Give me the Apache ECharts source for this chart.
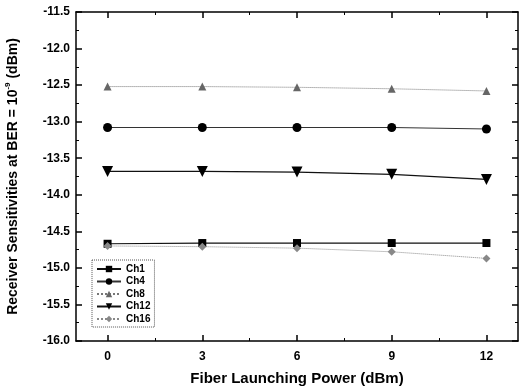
<!DOCTYPE html>
<html>
<head>
<meta charset="utf-8">
<script src="https://cdn.jsdelivr.net/npm/echarts@6/dist/echarts.min.js"></script>
<style>html,body{margin:0;padding:0;background:#fff}#c{width:522px;height:391px}</style>
</head>
<body>
<div id="c"></div>
<script>
var powers = [0, 3, 6, 9, 12];
var ch1 = [-14.67, -14.66, -14.66, -14.66, -14.66];
var ch4 = [-13.08, -13.08, -13.08, -13.08, -13.10];
var ch8 = [-12.52, -12.52, -12.53, -12.55, -12.58];
var ch12 = [-13.68, -13.68, -13.69, -13.72, -13.79];
var ch16 = [-14.70, -14.71, -14.73, -14.78, -14.87];
var xMajorTicks = [0, 3, 6, 9, 12];
var xMinorTicks = [1.5, 4.5, 7.5, 10.5];

function pairs(arr) { return powers.map(function (p, i) { return [p, arr[i]]; }); }

var font = '"Liberation Sans", Arial, sans-serif';
var chart = echarts.init(document.getElementById('c'));
var axisLine = { show: true, onZero: false, lineStyle: { color: '#000', width: 1.5 } };

function mk(name, data, symbol, size, color, lineType, lineColor, lw, rotate) {
  return {
    name: name, type: 'line', data: pairs(data), symbol: symbol, symbolSize: size,
    symbolRotate: rotate || 0,
    itemStyle: { color: color },
    lineStyle: { color: lineColor, type: lineType, width: lw },
    xAxisIndex: 0, yAxisIndex: 0, animation: false
  };
}

chart.setOption({
  animation: false,
  grid: { left: 76, right: 4, top: 12, height: 329, containLabel: false, outerBoundsMode: 'none' },
  legend: {
    orient: 'vertical', left: 92, top: 260,
    padding: [4, 4, 3, 4], itemGap: 2.5, itemWidth: 24, itemHeight: 8,
    borderColor: '#555', borderWidth: 1, borderType: 'dotted',
    textStyle: { fontFamily: font, fontWeight: 'bold', fontSize: 10, color: '#000' },
    data: ['Ch1', 'Ch4', 'Ch8', 'Ch12', 'Ch16']
  },
  xAxis: [
    {
      type: 'value', min: -1, max: 13, position: 'bottom',
      name: 'Fiber Launching Power (dBm)', nameLocation: 'middle', nameGap: 30,
      nameTextStyle: { fontFamily: font, fontWeight: 'bold', fontSize: 15, color: '#000' },
      axisLine: axisLine,
      axisTick: { show: true, inside: true, length: 6, customValues: xMajorTicks, lineStyle: { color: '#000', width: 1.5 } },
      axisLabel: { show: true, customValues: xMajorTicks, margin: 10, fontFamily: font, fontWeight: 'bold', fontSize: 12, color: '#000' },
      splitLine: { show: false }
    },
    {
      type: 'value', min: -1, max: 13, position: 'top',
      axisLine: axisLine,
      axisTick: { show: true, inside: true, length: 6, customValues: xMajorTicks, lineStyle: { color: '#000', width: 1.5 } },
      axisLabel: { show: false }, splitLine: { show: false }
    },
    {
      type: 'value', min: -1, max: 13, position: 'bottom',
      axisLine: { show: false },
      axisTick: { show: true, inside: true, length: 3, customValues: xMinorTicks, lineStyle: { color: '#000', width: 1 } },
      axisLabel: { show: false }, splitLine: { show: false }
    },
    {
      type: 'value', min: -1, max: 13, position: 'top',
      axisLine: { show: false },
      axisTick: { show: true, inside: true, length: 3, customValues: xMinorTicks, lineStyle: { color: '#000', width: 1 } },
      axisLabel: { show: false }, splitLine: { show: false }
    }
  ],
  yAxis: [
    {
      type: 'value', min: -16, max: -11.5, interval: 0.5, position: 'left',
      name: '{a|Receiver Sensitivities at BER = 10}{s|-9}{a| (dBm)}',
      nameLocation: 'middle', nameGap: 56, nameRotate: 90,
      nameTextStyle: {
        rich: {
          a: { fontFamily: font, fontWeight: 'bold', fontSize: 14, color: '#000', verticalAlign: 'bottom', lineHeight: 16 },
          s: { fontFamily: font, fontWeight: 'bold', fontSize: 8, color: '#000', verticalAlign: 'top', lineHeight: 16, padding: [0, 0, 6, 0] }
        }
      },
      axisLine: axisLine,
      axisTick: { show: true, inside: true, length: 6, lineStyle: { color: '#000', width: 1.5 } },
      minorTick: { show: true, splitNumber: 2, length: 3, lineStyle: { color: '#000', width: 1 } },
      axisLabel: { margin: 6, fontFamily: font, fontWeight: 'bold', fontSize: 12, color: '#000',
        formatter: function (v) { return v.toFixed(1); } },
      splitLine: { show: false }, minorSplitLine: { show: false }
    },
    {
      type: 'value', min: -16, max: -11.5, interval: 0.5, position: 'right',
      axisLine: axisLine,
      axisTick: { show: true, inside: true, length: 6, lineStyle: { color: '#000', width: 1.5 } },
      minorTick: { show: true, splitNumber: 2, length: 3, lineStyle: { color: '#000', width: 1 } },
      axisLabel: { show: false }, splitLine: { show: false }
    }
  ],
  series: [
    mk('Ch1', ch1, 'rect', 8, '#000', 'solid', '#111', 1.2),
    mk('Ch4', ch4, 'circle', 9, '#000', 'solid', '#333', 1),
    mk('Ch8', ch8, 'triangle', 8, '#666', 'dotted', '#777', 1),
    mk('Ch12', ch12, 'triangle', 11, '#000', 'solid', '#111', 1.2, 180),
    mk('Ch16', ch16, 'diamond', 8, '#888', 'dotted', '#888', 1)
  ]
});
</script>
</body>
</html>
